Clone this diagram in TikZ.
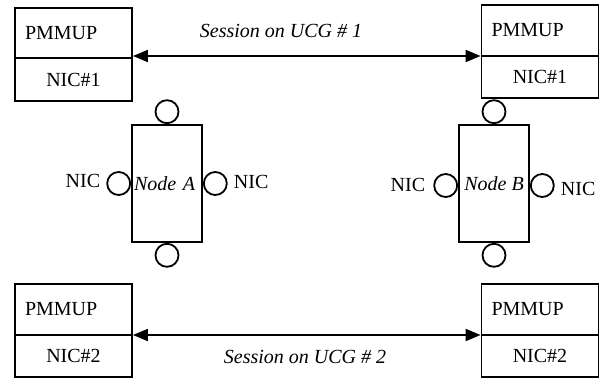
\documentclass[tikz,border=0pt]{standalone}
\usepackage{fontspec}
\setmainfont{Liberation Serif}
\usetikzlibrary{arrows.meta}
\begin{document}
\begin{tikzpicture}[x=1pt,y=-1pt,
  every node/.style={font=\fontsize{20}{24}\selectfont},
  lw/.style={line width=1.8pt},
  upperbox/.style={draw,lw,outer sep=0,minimum width=117,minimum height=51,inner ysep=0,inner xsep=10,text width=97,align=left},
  lowerbox/.style={draw,lw,outer sep=0,minimum width=117,minimum height=42,inner sep=0},
  hostbox/.style={draw,lw,minimum width=70,minimum height=117,inner sep=0,font=\fontsize{20}{24}\selectfont\itshape},
  port/.style={draw,lw,circle,minimum size=23,inner sep=0},
  niclabel/.style={inner sep=0},
  sess/.style={inner sep=0,font=\fontsize{20}{24}\selectfont\itshape},
  arr/.style={lw,{Triangle[length=15pt,width=12pt]}-{Triangle[length=15pt,width=12pt]}}]
\useasboundingbox (0,0) rectangle (600,378);
% top boxes
\node[upperbox,minimum height=50] (LT1) at (73.5,33) {PMMUP};
\node[lowerbox,minimum height=43,anchor=north] (LB1) at (LT1.south) {NIC\#1};
\node[upperbox] (RT1) at (540,30.5) {PMMUP};
\node[lowerbox,anchor=north] (RB1) at (RT1.south) {NIC\#1};
% bottom boxes
\node[upperbox] (LT2) at (73.5,309.5) {PMMUP};
\node[lowerbox,anchor=north] (LB2) at (LT2.south) {NIC\#2};
\node[upperbox] (RT2) at (540,309.5) {PMMUP};
\node[lowerbox,anchor=north] (RB2) at (RT2.south) {NIC\#2};
% sessions
\draw[arr] ([xshift=0.9pt]LT1.east |- RT1.south west) -- ([xshift=-0.9pt]RT1.south west);
\node[sess] (S1) at (281,31) {Session on UCG \# 1};
\draw[arr] ([xshift=0.9pt]LT2.south east) -- ([xshift=-0.9pt]RT2.south west);
\node[sess] (S2) at (305,356.5) {Session on UCG \# 2};
% Node A
\node[hostbox,inner xsep=2,text width=66,align=left] (A) at (167,183.5) {Node A};
\node[port,anchor=south] (At) at (A.north) {};
\node[port,anchor=north] (Ab) at (A.south) {};
\node[port,anchor=east] (Al) at (A.west) {};
\node[port,anchor=west] (Ar) at (A.east) {};
\node[niclabel,anchor=east] (nAl) at ([xshift=-6pt,yshift=3pt]Al.west) {NIC};
\node[niclabel,anchor=west] (nAr) at ([xshift=6pt,yshift=1.5pt]Ar.east) {NIC};
% Node B
\node[hostbox] (B) at (494,183.5) {Node B};
\node[port,anchor=south] (Bt) at (B.north) {};
\node[port,anchor=north] (Bb) at (B.south) {};
\node[port,anchor=east] (Bl) at ([yshift=-2pt]B.west) {};
\node[port,anchor=west] (Br) at ([yshift=-2pt]B.east) {};
\node[niclabel,anchor=east] (nBl) at ([xshift=-8pt,yshift=1pt]Bl.west) {NIC};
\node[niclabel,anchor=west] (nBr) at ([xshift=6pt,yshift=-3.5pt]Br.east) {NIC};
\end{tikzpicture}
\end{document}
